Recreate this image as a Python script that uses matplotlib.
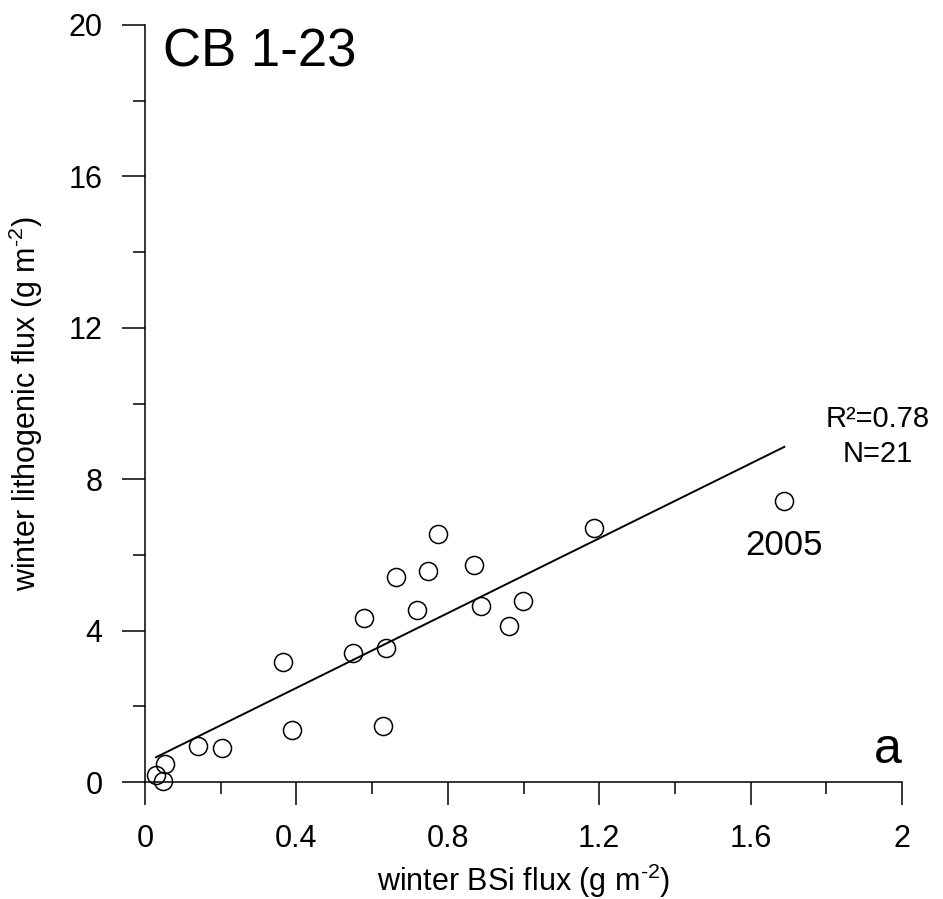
import matplotlib
matplotlib.use("Agg")
import matplotlib.pyplot as plt
from matplotlib.ticker import MultipleLocator
import numpy as np

plt.rcParams['font.family'] = ['Liberation Sans', 'DejaVu Sans']
plt.rcParams['mathtext.fontset'] = 'custom'
plt.rcParams['mathtext.rm'] = 'Liberation Sans'
plt.rcParams['mathtext.it'] = 'Liberation Sans:italic'
plt.rcParams['mathtext.bf'] = 'Liberation Sans:bold'

# winter BSi flux (g m-2) and winter lithogenic flux (g m-2)
bsi = [0.029, 0.048, 0.053, 0.141, 0.203, 0.364, 0.389, 0.549, 0.579, 0.636,
       0.629, 0.662, 0.718, 0.749, 0.775, 0.868, 0.888, 0.963, 0.998, 1.185, 1.688]
litho = [0.18, 0.03, 0.47, 0.96, 0.91, 3.17, 1.37, 3.40, 4.34, 3.53,
         1.48, 5.41, 4.55, 5.58, 6.55, 5.74, 4.64, 4.13, 4.79, 6.70, 7.43]

# regression line
fit_intercept = 0.51
fit_slope = 4.94
fit_x = [0.029, 1.689]

stats_text = "R\u00b2=0.78\nN=21"
label_2005 = "2005"
label_2005_xy = (1.688, 7.43)

fig = plt.figure(figsize=(9.43, 8.99), dpi=100)
ax = fig.add_axes([145/943, 1-782/899, (902-145)/943, (782-25)/899])

fx = np.array(fit_x)
ax.plot(fx, fit_intercept + fit_slope*fx, color='black', lw=1.4, zorder=2)
ax.plot(bsi, litho, linestyle='none', marker='o', markersize=13,
        markerfacecolor='none', markeredgecolor='black', markeredgewidth=1.1,
        clip_on=False, zorder=3)

ax.set_xlim(0, 2)
ax.set_ylim(0, 20)
ax.xaxis.set_major_locator(MultipleLocator(0.4))
ax.xaxis.set_minor_locator(MultipleLocator(0.2))
ax.yaxis.set_major_locator(MultipleLocator(4))
ax.yaxis.set_minor_locator(MultipleLocator(2))
ax.set_xticks([0, 0.4, 0.8, 1.2, 1.6, 2.0])
ax.set_xticklabels(['0', '0.4', '0.8', '1.2', '1.6', '2'])

for s in ['top', 'right']:
    ax.spines[s].set_visible(False)
for s in ['left', 'bottom']:
    ax.spines[s].set_linewidth(1.1)

ax.tick_params(which='major', direction='out', length=16.5, width=1.1,
               labelsize=22, pad=14)
ax.tick_params(which='minor', direction='out', length=8.5, width=1.1)

ax.set_xlabel(r"winter BSi flux (g m$^{\text{-2}}$)", fontsize=22, labelpad=5)
ax.set_ylabel(r"winter lithogenic flux (g m$^{\text{-2}}$)", fontsize=22, labelpad=17)

ax.text(0.024, 0.997, "CB 1-23", transform=ax.transAxes, fontsize=38,
        ha='left', va='top')
ax.text(1.0, 0.025, "a", transform=ax.transAxes, fontsize=36,
        ha='right', va='baseline')
ax.text(1.935, 9.97, stats_text, fontsize=21, ha='center', va='top',
        multialignment='center', linespacing=1.35)
ax.annotate(label_2005, xy=label_2005_xy, xytext=(0, -20), textcoords='offset points',
            fontsize=25, ha='center', va='top')

fig.savefig("out.png", dpi=100)
